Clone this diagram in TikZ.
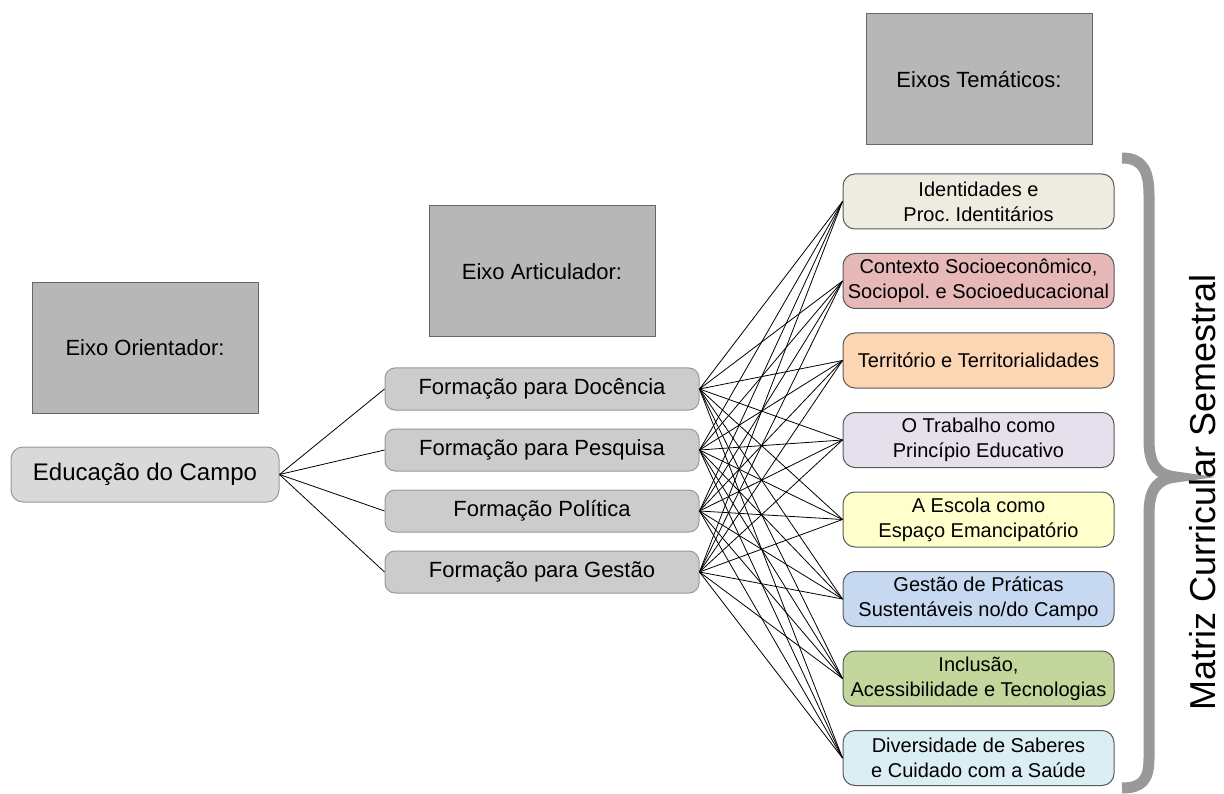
\documentclass[tikz,border=0pt]{standalone}
\usepackage{fontspec}
\setmainfont{Liberation Sans}
\frenchspacing
\definecolor{eixogray}{RGB}{183, 183, 183}
\definecolor{campogray}{RGB}{217, 217, 217}
\definecolor{formgray}{RGB}{204, 204, 204}
\definecolor{bracegray}{RGB}{153, 153, 153}
\definecolor{idcol}{RGB}{238, 236, 225}
\definecolor{ctxcol}{RGB}{230, 184, 183}
\definecolor{tercol}{RGB}{252, 213, 180}
\definecolor{trabcol}{RGB}{229, 224, 236}
\definecolor{esccol}{RGB}{255, 255, 204}
\definecolor{gestcol}{RGB}{198, 217, 241}
\definecolor{inclcol}{RGB}{195, 214, 155}
\definecolor{divcol}{RGB}{219, 238, 244}
\usetikzlibrary{positioning}

\begin{document}
\begin{tikzpicture}[x=1pt, y=-1pt,
  eixo/.style={rectangle, draw=black!60, line width=1pt, fill=eixogray, minimum width=226pt, minimum height=131pt, font=\fontsize{22}{26}\selectfont},
  formbox/.style={rectangle, rounded corners=10pt, draw=black!40, line width=1pt, fill=formgray, minimum width=314pt, minimum height=42pt, font=\fontsize{22}{26}\selectfont},
  temabox/.style={rectangle, rounded corners=12pt, draw=black!65, line width=1pt, minimum width=271pt, minimum height=55pt, inner xsep=2pt, align=center, font=\fontsize{20}{25}\selectfont},
  link/.style={draw=black, line width=0.8pt}]
  \useasboundingbox (0,0) rectangle (1224,794);

  \node[eixo] (eo) at (145, 348) {Eixo Orientador:};
  \node[eixo] (ea) at (542, 271.5) {Eixo Articulador:};
  \node[eixo] (et) at (979, 79.5) {Eixos Temáticos:};

  \node[formbox, fill=campogray, minimum width=268pt, minimum height=55pt, rounded corners=12pt, font=\fontsize{24}{28}\selectfont] (campo) at (145, 474.5) {Educação do Campo};

  \foreach \i/\txt in {1/Formação para Docência, 2/Formação para Pesquisa, 3/Formação Política, 4/Formação para Gestão} {
    \node[formbox] (f\i) at (542, {389 + (\i-1)*61}) {\txt};
  }

  \foreach \i/\col/\txt in {1/idcol/{Identidades e\\Proc. Identitários},
      2/ctxcol/{Contexto Socioeconômico,\\Sociopol. e Socioeducacional},
      3/tercol/{Território e Territorialidades},
      4/trabcol/{O Trabalho como\\Princípio Educativo},
      5/esccol/{A Escola como\\Espaço Emancipatório},
      6/gestcol/{Gestão de Práticas\\Sustentáveis no/do Campo},
      7/inclcol/{Inclusão,\\Acessibilidade e Tecnologias},
      8/divcol/{Diversidade de Saberes\\e Cuidado com a Saúde}} {
    \node[temabox, fill=\col] (t\i) at (978.5, {201.5 + (\i-1)*79.5}) {\txt};
  }

  % connectors
  \foreach \a in {1,...,4} {
    \draw[link] (campo.east) -- (f\a.west);
    \foreach \b in {1,...,8}
      \draw[link] (f\a.east) -- (t\b.west);
  }

  % brace and label
  \draw[bracegray, line width=11pt] (1122,158) .. controls (1142,158) and (1149,170) .. (1149,195)
    -- (1149,440) .. controls (1149,466) and (1158,475) .. (1176,477)
    .. controls (1158,479) and (1149,488) .. (1149,514)
    -- (1149,758) .. controls (1149,780) and (1142,788) .. (1122,788);
  \node[rotate=90, font=\fontsize{36}{40}\selectfont, inner sep=0pt] (matriz) at (1203, 492) {Matriz Curricular Semestral};
\end{tikzpicture}
\end{document}
